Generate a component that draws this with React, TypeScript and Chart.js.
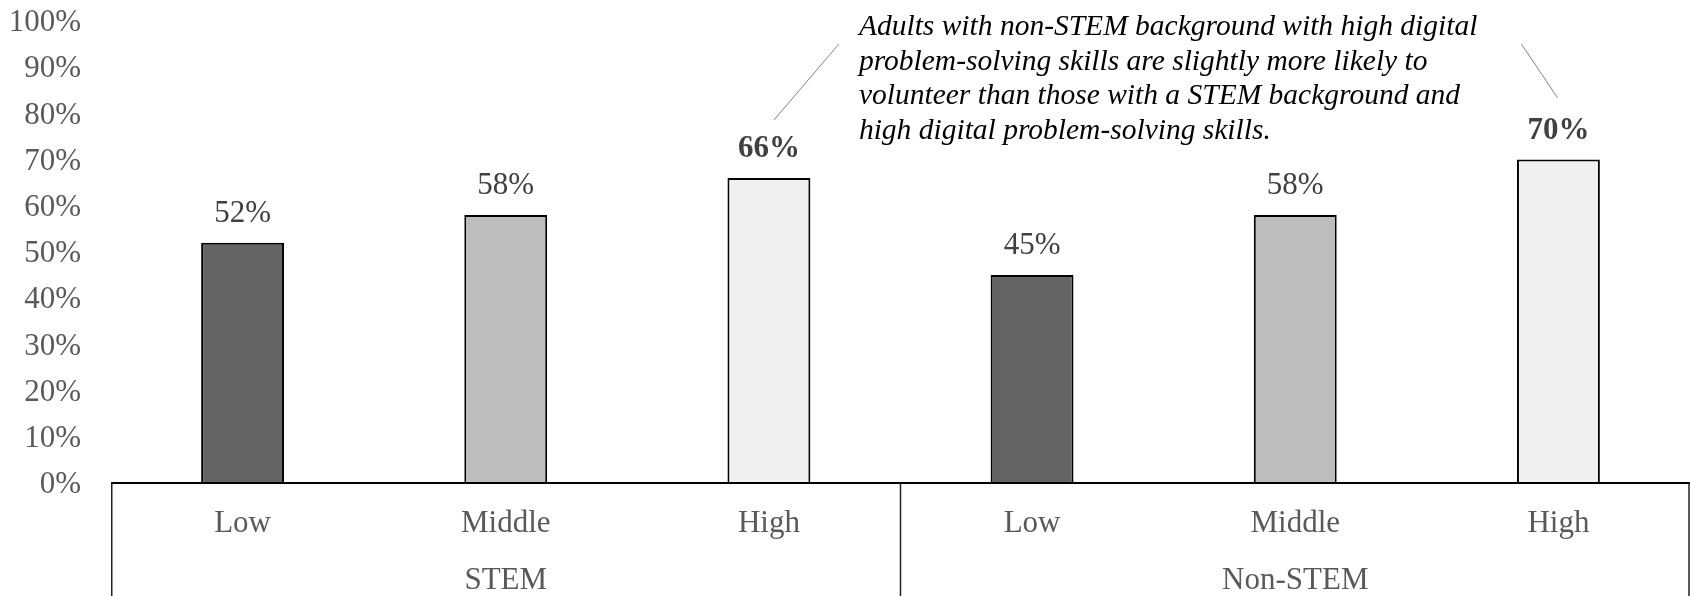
import React, { useEffect, useRef } from "react";
import { Chart, registerables } from "chart.js";

Chart.register(...registerables);

const categories = ["Low", "Middle", "High", "Low", "Middle", "High"];
const groups = ["STEM", "Non-STEM"];
const values = [52, 58, 66, 45, 58, 70];
const barColors = ["#646464", "#bdbdbd", "#f0f0f0", "#646464", "#bdbdbd", "#f0f0f0"];
const boldLabels = [false, false, true, false, false, true];
const yTickValues = [0, 10, 20, 30, 40, 50, 60, 70, 80, 90, 100];
const noteLines = [
  "Adults with non-STEM background with high digital",
  "problem-solving skills are slightly more likely to",
  "volunteer than those with a STEM background and",
  "high digital problem-solving skills.",
];

const SERIF = "'Liberation Serif', 'Times New Roman', serif";

const overlayPlugin = {
  id: "overlay",
  afterDatasetsDraw(chart: any) {
    const { ctx, chartArea, scales } = chart;
    const x = scales.x;
    const y = scales.y;
    const meta = chart.getDatasetMeta(0);
    const H = chart.height;
    ctx.save();

    ctx.strokeStyle = "#000000";
    ctx.lineWidth = 2;
    ctx.beginPath();
    ctx.moveTo(chartArea.left, chartArea.bottom);
    ctx.lineTo(chartArea.right, chartArea.bottom);
    ctx.stroke();
    ctx.lineWidth = 1.5;
    ctx.strokeStyle = "#222222";
    const divX = (x.getPixelForValue(2) + x.getPixelForValue(3)) / 2;
    [chartArea.left + 0.75, divX, chartArea.right - 1].forEach((px: number) => {
      ctx.beginPath();
      ctx.moveTo(px, chartArea.bottom);
      ctx.lineTo(px, H);
      ctx.stroke();
    });

    ctx.fillStyle = "#595959";
    ctx.font = `31px ${SERIF}`;
    ctx.textAlign = "center";
    ctx.textBaseline = "middle";
    groups.forEach((g, i) => {
      const cx = x.getPixelForValue(i * 3 + 1);
      ctx.fillText(g, cx, chartArea.bottom + 98);
    });

    meta.data.forEach((bar: any, i: number) => {
      ctx.font = `${boldLabels[i] ? "bold " : ""}31px ${SERIF}`;
      ctx.fillStyle = "#404040";
      ctx.fillText(values[i] + "%", bar.x, bar.y - 29);
    });

    const textX = x.getPixelForValue(2) + 90;
    const top = y.getPixelForValue(100);
    ctx.font = `italic 29.5px ${SERIF}`;
    ctx.fillStyle = "#000000";
    ctx.textAlign = "left";
    ctx.textBaseline = "alphabetic";
    noteLines.forEach((l, i) => {
      ctx.fillText(l, textX, top + 14 + i * 34.5);
    });

    ctx.strokeStyle = "#808080";
    ctx.lineWidth = 1;
    const b2 = meta.data[2];
    const b5 = meta.data[5];
    ctx.beginPath();
    ctx.moveTo(textX - 20, top + 23);
    ctx.lineTo(b2.x + 5, b2.y - 58);
    ctx.stroke();
    ctx.beginPath();
    ctx.moveTo(b5.x - 37, top + 23);
    ctx.lineTo(b5.x - 1, b5.y - 62);
    ctx.stroke();

    ctx.restore();
  },
};

export default function App() {
  const ref = useRef<HTMLCanvasElement>(null);

  useEffect(() => {
    document.body.style.margin = "0";
    const canvas = ref.current!;
    const chart = new Chart(canvas, {
      type: "bar",
      data: {
        labels: categories,
        datasets: [
          {
            data: values,
            backgroundColor: barColors,
            borderColor: "#000000",
            borderWidth: 2,
            borderSkipped: "bottom",
            barPercentage: 0.315,
            categoryPercentage: 1,
          },
        ],
      },
      options: {
        animation: false,
        responsive: false,
        devicePixelRatio: 1,
        layout: { padding: { top: 21, right: 0, left: 0, bottom: 0 } },
        plugins: {
          legend: { display: false },
          tooltip: { enabled: false },
        },
        scales: {
          x: {
            grid: { display: false, drawTicks: false },
            border: { display: false },
            ticks: {
              color: "#595959",
              font: { family: SERIF, size: 31 },
              padding: 22,
              maxRotation: 0,
            },
            afterFit(scale: any) {
              scale.height = 113;
            },
          },
          y: {
            min: 0,
            max: 100,
            afterBuildTicks(scale: any) {
              scale.ticks = yTickValues.map((v) => ({ value: v }));
            },
            grid: { display: false, drawTicks: false },
            border: { display: false },
            ticks: {
              color: "#595959",
              font: { family: SERIF, size: 31 },
              padding: 30,
              labelOffset: 2,
              callback: (v: any) => v + "%",
            },
            afterFit(scale: any) {
              scale.width = 111;
              scale.paddingTop = 0;
              scale.paddingBottom = 0;
            },
          },
        },
      },
      plugins: [overlayPlugin],
    });
    return () => chart.destroy();
  }, []);

  return <canvas ref={ref} width={1690} height={596} style={{ display: "block" }} />;
}
